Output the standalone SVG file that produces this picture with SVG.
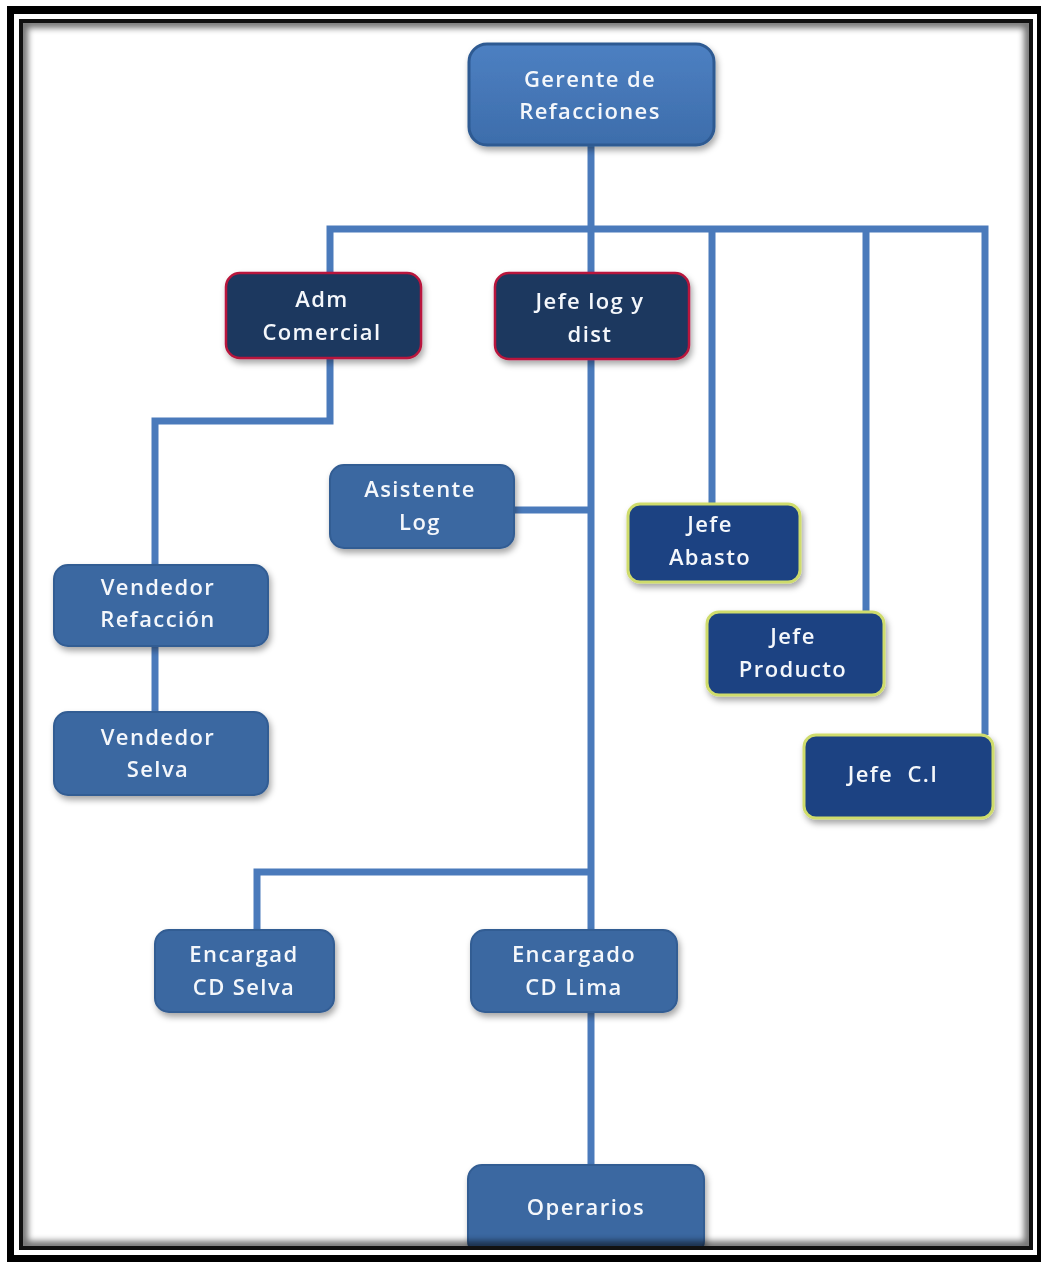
<svg xmlns="http://www.w3.org/2000/svg" width="1041" height="1262" viewBox="0 0 1041 1262">
<defs>
<filter id="sh" x="-10%" y="-10%" width="125%" height="130%">
<feDropShadow dx="2" dy="4" stdDeviation="3" flood-color="#000" flood-opacity="0.35"/>
</filter>
<filter id="blur" x="-5%" y="-5%" width="110%" height="110%">
<feGaussianBlur stdDeviation="3"/>
</filter>
<clipPath id="inner">
<rect x="23" y="23" width="1006" height="1223"/>
</clipPath>
<linearGradient id="gTop" x1="0" y1="0" x2="0" y2="1">
<stop offset="0" stop-color="#4d80c2"/>
<stop offset="1" stop-color="#3d6dab"/>
</linearGradient>
</defs>
<style>
.mid{fill:#3a67a1;stroke:#335d93;stroke-width:2;}
.top{fill:url(#gTop);stroke:#2d5a92;stroke-width:3;}
.dkr{fill:#1b375f;stroke:#b8173c;stroke-width:2.5;}
.dky{fill:#1d4282;stroke:#cfdc6c;stroke-width:3;}
.lbl{font-family:"Open Sans","Liberation Sans",sans-serif;font-size:22px;font-weight:600;fill:#f4f7fb;text-anchor:middle;letter-spacing:1.4px;}
.con{fill:none;stroke:#4a7abb;stroke-width:7;stroke-linejoin:miter;stroke-linecap:butt;}
</style>
<rect x="0" y="0" width="1041" height="1262" fill="#ffffff"/>
<g id="connectors">
<path class="con" d="M591 146 V229"/>
<path class="con" d="M330 272 V229 H985 V735"/>
<path class="con" d="M591 229 V272"/>
<path class="con" d="M712 229 V503"/>
<path class="con" d="M866 229 V612"/>
<path class="con" d="M330 358 V421 H155 V565"/>
<path class="con" d="M155 646 V712"/>
<path class="con" d="M591 360 V930"/>
<path class="con" d="M514 510 H591"/>
<path class="con" d="M591 872 H257 V930"/>
<path class="con" d="M591 1012 V1165"/>
</g>
<g id="n-gerente" filter="url(#sh)">
<rect class="top" x="469" y="44" width="245" height="101" rx="18"/>
<text class="lbl" x="590" y="87">Gerente de</text>
<text class="lbl" x="590" y="119">Refacciones</text>
</g>
<g id="n-adm" filter="url(#sh)">
<rect class="dkr" x="226" y="273" width="195" height="85" rx="14"/>
<text class="lbl" x="322" y="307">Adm</text>
<text class="lbl" x="322" y="340">Comercial</text>
</g>
<g id="n-jefelog" filter="url(#sh)">
<rect class="dkr" x="495" y="273" width="194" height="86" rx="14"/>
<text class="lbl" x="590" y="309">Jefe log y</text>
<text class="lbl" x="590" y="342">dist</text>
</g>
<g id="n-asistente" filter="url(#sh)">
<rect class="mid" x="330" y="465" width="184" height="83" rx="14"/>
<text class="lbl" x="420" y="497">Asistente</text>
<text class="lbl" x="420" y="530">Log</text>
</g>
<g id="n-vref" filter="url(#sh)">
<rect class="mid" x="54" y="565" width="214" height="81" rx="14"/>
<text class="lbl" x="158" y="595">Vendedor</text>
<text class="lbl" x="158" y="627">Refacción</text>
</g>
<g id="n-vselva" filter="url(#sh)">
<rect class="mid" x="54" y="712" width="214" height="83" rx="14"/>
<text class="lbl" x="158" y="745">Vendedor</text>
<text class="lbl" x="158" y="777">Selva</text>
</g>
<g id="n-abasto" filter="url(#sh)">
<rect class="dky" x="628" y="504" width="172" height="78" rx="12"/>
<text class="lbl" x="710" y="532">Jefe</text>
<text class="lbl" x="710" y="565">Abasto</text>
</g>
<g id="n-producto" filter="url(#sh)">
<rect class="dky" x="707" y="612" width="177" height="83" rx="12"/>
<text class="lbl" x="793" y="644">Jefe</text>
<text class="lbl" x="793" y="677">Producto</text>
</g>
<g id="n-ci" filter="url(#sh)">
<rect class="dky" x="804" y="735" width="189" height="83" rx="12"/>
<text class="lbl" x="893" y="782" xml:space="preserve">Jefe  C.I</text>
</g>
<g id="n-cdselva" filter="url(#sh)">
<rect class="mid" x="155" y="930" width="179" height="82" rx="14"/>
<text class="lbl" x="244" y="962">Encargad</text>
<text class="lbl" x="244" y="995">CD Selva</text>
</g>
<g id="n-cdlima" filter="url(#sh)">
<rect class="mid" x="471" y="930" width="206" height="82" rx="14"/>
<text class="lbl" x="574" y="962">Encargado</text>
<text class="lbl" x="574" y="995">CD Lima</text>
</g>
<g id="n-operarios" filter="url(#sh)">
<rect class="mid" x="468" y="1165" width="236" height="90" rx="14"/>
<text class="lbl" x="586" y="1215">Operarios</text>
</g>
<g id="frame">
<rect x="14" y="14" width="1023" height="7" fill="#fff"/>
<rect x="14" y="1248" width="1023" height="7" fill="#fff"/>
<rect x="14" y="14" width="7" height="1241" fill="#fff"/>
<rect x="1031" y="14" width="6" height="1241" fill="#fff"/>
<path d="M7 6 H1041 V1262 H7 Z M14 14 V1255 H1037 V14 Z" fill="#000" fill-rule="evenodd"/>
<g clip-path="url(#inner)">
<rect x="23" y="23" width="1006" height="1223" fill="none" stroke="#000" stroke-width="10" opacity="0.55" filter="url(#blur)"/>
</g>
<rect x="21" y="21" width="1010" height="1227" fill="none" stroke="#111" stroke-width="4"/>
</g>
</svg>
